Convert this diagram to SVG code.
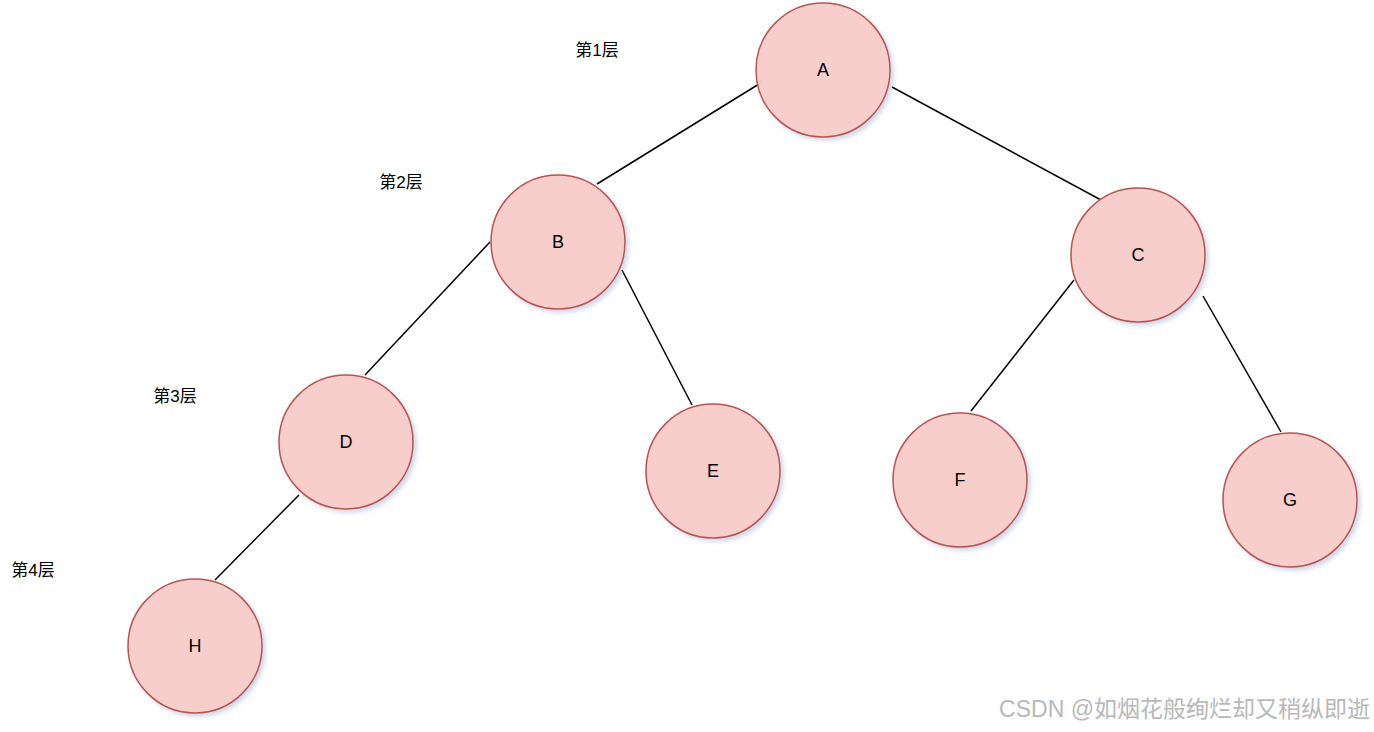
<svg xmlns="http://www.w3.org/2000/svg" width="1374" height="732" viewBox="0 0 1374 732">
<style>
.n{fill:#f8cecc;stroke:#b85450;stroke-width:1.5;filter:url(#sh)}
.t{font-family:"Liberation Sans",Arial,sans-serif;font-size:18px;fill:#000;text-anchor:middle;dominant-baseline:central}
.l{font-family:"Liberation Sans","Noto Sans CJK SC",sans-serif;font-size:17px;fill:#000;text-anchor:middle;dominant-baseline:central}
.e{stroke:#000;stroke-width:1.5;fill:none}
</style>
<defs><filter id="sh" x="-20%" y="-20%" width="150%" height="150%"><feDropShadow dx="3" dy="3" stdDeviation="2" flood-color="#8090c0" flood-opacity="0.35"/></filter></defs>
<rect width="1374" height="732" fill="#fff"/>
<g id="edges">
<line class="e" x1="759" y1="84" x2="597" y2="184"/>
<line class="e" x1="892" y1="87" x2="1101" y2="200"/>
<line class="e" x1="490" y1="242" x2="365" y2="375"/>
<line class="e" x1="622" y1="270" x2="692" y2="405"/>
<line class="e" x1="1074" y1="280" x2="971" y2="411"/>
<line class="e" x1="1203" y1="296" x2="1281" y2="432"/>
<line class="e" x1="299" y1="495" x2="215" y2="580"/>
</g>
<g id="A"><circle class="n" cx="823" cy="70" r="67"/><text class="t" x="823" y="70">A</text></g>
<g id="B"><circle class="n" cx="558" cy="242" r="67"/><text class="t" x="558" y="242">B</text></g>
<g id="C"><circle class="n" cx="1138" cy="255" r="67"/><text class="t" x="1138" y="255">C</text></g>
<g id="D"><circle class="n" cx="346" cy="442" r="67"/><text class="t" x="346" y="442">D</text></g>
<g id="E"><circle class="n" cx="713" cy="471" r="67"/><text class="t" x="713" y="471">E</text></g>
<g id="F"><circle class="n" cx="960" cy="480" r="67"/><text class="t" x="960" y="480">F</text></g>
<g id="G"><circle class="n" cx="1290" cy="500" r="67"/><text class="t" x="1290" y="500">G</text></g>
<g id="H"><circle class="n" cx="195" cy="646" r="67"/><text class="t" x="195" y="646">H</text></g>
<g id="labels">
<text class="l" x="597" y="50">第1层</text>
<text class="l" x="401" y="182">第2层</text>
<text class="l" x="175" y="396">第3层</text>
<text class="l" x="33" y="570">第4层</text>
</g>
<text x="1370" y="709" font-family="'Liberation Sans','Noto Sans CJK SC',sans-serif" font-size="23" fill="#b8b8b8" text-anchor="end" dominant-baseline="central">CSDN @如烟花般绚烂却又稍纵即逝</text>
</svg>
